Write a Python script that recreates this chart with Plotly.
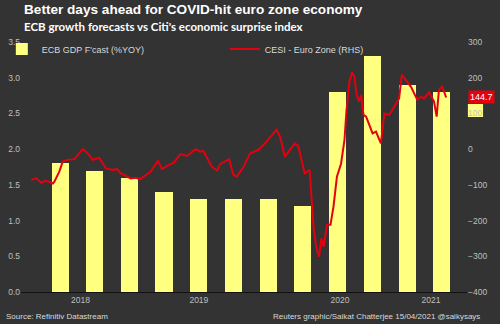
import plotly.graph_objects as go

# ECB staff GDP growth forecasts (%YoY), one per quarterly projection round
ecb_dates = ["2018-07-01", "2018-10-01", "2019-01-01", "2019-04-01",
             "2019-07-01", "2019-10-01", "2020-01-01", "2020-04-01",
             "2020-07-01", "2020-10-01", "2021-01-01", "2021-04-01"]
ecb_gdp = [1.8, 1.7, 1.6, 1.4, 1.3, 1.3, 1.3, 1.2, 2.8, 3.3, 2.9, 2.8]

# Citi Economic Surprise Index - Euro Zone
cesi_dates = ["2018-04-16", "2018-04-29", "2018-05-12", "2018-05-25", "2018-06-12",
              "2018-06-16", "2018-06-29", "2018-07-08", "2018-07-21", "2018-08-08",
              "2018-08-30", "2018-09-12", "2018-09-25", "2018-10-12", "2018-10-30",
              "2018-11-16", "2018-11-29", "2018-12-08", "2018-12-17", "2019-01-03",
              "2019-01-16", "2019-01-29", "2019-02-25", "2019-03-16", "2019-03-27",
              "2019-04-14", "2019-04-27", "2019-05-14", "2019-06-01", "2019-06-23",
              "2019-07-06", "2019-07-14", "2019-08-05", "2019-08-19", "2019-08-27",
              "2019-09-20", "2019-10-01", "2019-10-10", "2019-10-27", "2019-11-14",
              "2019-11-18", "2019-12-06", "2019-12-23", "2020-01-10", "2020-01-23",
              "2020-02-01", "2020-02-14", "2020-02-27", "2020-03-11", "2020-03-20",
              "2020-03-29", "2020-04-06", "2020-04-19", "2020-04-24", "2020-04-30",
              "2020-05-08", "2020-05-14", "2020-05-20", "2020-05-26", "2020-06-04",
              "2020-06-13", "2020-06-21", "2020-06-30", "2020-07-11", "2020-07-20",
              "2020-07-25", "2020-08-02", "2020-08-09", "2020-08-15", "2020-08-21",
              "2020-08-27", "2020-09-02", "2020-09-08", "2020-09-15", "2020-09-24",
              "2020-10-02", "2020-10-11", "2020-10-24", "2020-11-02", "2020-11-15",
              "2020-11-28", "2020-12-11", "2020-12-18", "2020-12-29", "2021-01-11",
              "2021-01-28", "2021-02-06", "2021-02-15", "2021-02-28", "2021-03-13",
              "2021-03-20", "2021-03-26", "2021-04-04", "2021-04-14"]
cesi = [-86, -81, -94, -88, -96,
        -91, -63, -35, -30, -28,
        0, -12, -30, -24, -54,
        -58, -56, -68, -72, -82,
        -80, -84, -63, -33, -56,
        -44, -38, -14, -19, 0,
        -7, -5, -49, -60, -42,
        -28, -72, -77, -51, -12,
        -10, -2, 16, 40, 54,
        35, -21, -2, 16, 9,
        -30, -68, -58, -124, -226,
        -282, -301, -250, -273, -212,
        -212, -161, -77, -40, 26,
        105, 189, 215, 203, 152,
        133, 152, 96, 91, 63,
        44, 49, 16, 100, 96,
        119, 142, 208, 194, 175,
        138, 147, 142, 159, 133,
        91, 166, 175, 144.7]

# Year labels sit in the middle of each year's span on the axis
year_tick_dates = ["2018-08-24", "2019-07-02", "2020-07-08", "2021-03-05"]
year_tick_text = ["2018", "2019", "2020", "2021"]

BG = "#333333"
TICK = "#bfbfbf"
YELLOW = "#ffff80"
RED = "#e3000f"

fig = go.Figure()
fig.add_trace(go.Bar(
    x=ecb_dates, y=ecb_gdp, name="ECB GDP F'cast (%YOY)",
    marker=dict(color=YELLOW, line=dict(width=0)),
    width=45 * 24 * 3600 * 1000, yaxis="y", legend="legend",
))
fig.add_trace(go.Scatter(
    x=cesi_dates, y=cesi, name="CESI - Euro Zone (RHS)",
    mode="lines", line=dict(color=RED, width=2), yaxis="y2", legend="legend2",
))

tick_font = dict(family="Liberation Sans, Arial", size=8.5, color=TICK)
legend_font = dict(family="Liberation Sans, Arial", size=9, color="#d9d9d9")

fig.update_layout(
    width=500, height=324,
    margin=dict(l=21, r=33, t=42, b=32, autoexpand=False),
    paper_bgcolor=BG, plot_bgcolor=BG,
    showlegend=True,
    legend=dict(orientation="h", x=-0.043, y=1.03, xanchor="left", yanchor="top",
                font=legend_font, bgcolor="rgba(0,0,0,0)", itemwidth=30),
    legend2=dict(orientation="h", x=0.457, y=1.03, xanchor="left", yanchor="top",
                 font=legend_font, bgcolor="rgba(0,0,0,0)", itemwidth=30),
    xaxis=dict(type="date", range=["2018-03-20", "2021-06-08"],
               tickvals=year_tick_dates, ticktext=year_tick_text,
               tickfont=tick_font, ticks="", showgrid=False, zeroline=False,
               showline=True, linecolor="#111111", linewidth=1),
    yaxis=dict(range=[0, 3.5], dtick=0.5, tickformat=".1f", tickfont=tick_font,
               showgrid=False, zeroline=False, ticks="", showline=False),
    yaxis2=dict(range=[-400, 300], dtick=100, overlaying="y", side="right",
                tickfont=tick_font, showgrid=False, zeroline=False, ticks="",
                showline=False),
    bargap=0,
)

# Faded value box of the last bar, sitting behind the right-axis labels
fig.add_shape(type="rect", xref="paper", yref="paper",
              x0=1.002, x1=1.036, y0=0.70, y1=0.752,
              fillcolor=YELLOW, line=dict(width=0), layer="below")

# Latest CESI value tag
fig.add_annotation(xref="paper", yref="y2", x=1.002, y=cesi[-1],
                   xanchor="left", yanchor="middle", text=f"{cesi[-1]}",
                   showarrow=False, bgcolor=RED, borderpad=1,
                   font=dict(family="Liberation Sans, Arial", size=9, color="white"))

fig.add_annotation(xref="paper", yref="paper", x=0.002, y=1.132,
                   xanchor="left", yanchor="middle", showarrow=False,
                   text="<b>Better days ahead for COVID-hit euro zone economy</b>",
                   font=dict(family="Liberation Sans, Arial", size=13.6, color="white"))
fig.add_annotation(xref="paper", yref="paper", x=0.002, y=1.06,
                   xanchor="left", yanchor="middle", showarrow=False,
                   text="<b>ECB growth forecasts vs Citi's economic surprise index</b>",
                   font=dict(family="Lato", size=11.5, color="white"))
fig.add_annotation(xref="paper", yref="paper", x=-0.038, y=-0.096,
                   xanchor="left", yanchor="middle", showarrow=False,
                   text="Source: Refinitiv Datastream",
                   font=dict(family="Liberation Sans, Arial", size=8, color="#d9d9d9"))
fig.add_annotation(xref="paper", yref="paper", x=1.034, y=-0.096,
                   xanchor="right", yanchor="middle", showarrow=False,
                   text="Reuters graphic/Saikat Chatterjee 15/04/2021 @saikysays",
                   font=dict(family="Liberation Sans, Arial", size=8, color="#d9d9d9"))

fig.write_html("out.html")
